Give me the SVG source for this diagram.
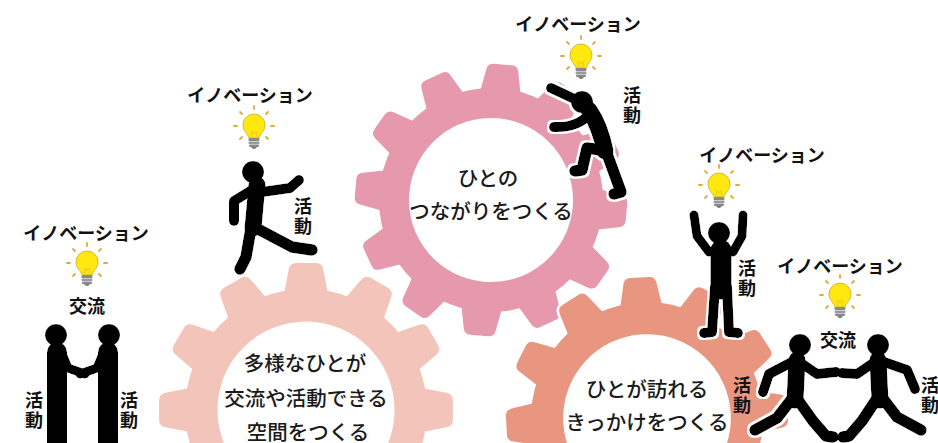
<svg xmlns="http://www.w3.org/2000/svg" xmlns:xlink="http://www.w3.org/1999/xlink" width="938" height="443" viewBox="0 0 938 443">
  <style>
    .cap { font-family: "Noto Sans CJK JP", "Noto Sans", sans-serif; font-size: 20.5px; font-weight: 500; fill: #1a1a1a; text-anchor: middle; }
    .lbl { font-family: "Noto Sans CJK JP", "Noto Sans", sans-serif; font-size: 18px; font-weight: 700; fill: #111; text-anchor: middle; }
    .act { font-family: "Noto Sans CJK JP", "Noto Sans", sans-serif; font-size: 18px; font-weight: 700; fill: #111; writing-mode: vertical-rl; text-anchor: start; letter-spacing: 2px; }
    .fig path { fill: none; stroke: #000; stroke-linecap: round; stroke-linejoin: round; }
    .fig circle { fill: #000; }
    .limb { stroke-width: 10px; }
    .leg { stroke-width: 11.5px; }
    .torso { stroke-width: 17px; }
  </style>
  <defs>
    <!-- one tooth, pointing up from the gear centre -->
    <path id="tooth" d="M-21,-104 L-16,-130 Q-15,-136 -9,-136 L9,-136 Q15,-136 16,-130 L21,-104 Z"/>
    <!-- gear body with 12 teeth -->
    <g id="gear">
      <circle r="112"/>
      <use href="#tooth"/>
      <use href="#tooth" transform="rotate(30)"/>
      <use href="#tooth" transform="rotate(60)"/>
      <use href="#tooth" transform="rotate(90)"/>
      <use href="#tooth" transform="rotate(120)"/>
      <use href="#tooth" transform="rotate(150)"/>
      <use href="#tooth" transform="rotate(180)"/>
      <use href="#tooth" transform="rotate(210)"/>
      <use href="#tooth" transform="rotate(240)"/>
      <use href="#tooth" transform="rotate(270)"/>
      <use href="#tooth" transform="rotate(300)"/>
      <use href="#tooth" transform="rotate(330)"/>
    </g>
    <!-- light bulb, globe centred on the origin -->
    <g id="bulb">
      <g stroke="#DDAE35" stroke-width="1.8" stroke-linecap="round">
        <line x1="0" y1="-17" x2="0" y2="-20"/>
        <line x1="-12" y1="-12" x2="-14" y2="-14"/>
        <line x1="12" y1="-12" x2="14" y2="-14"/>
        <line x1="-17" y1="0" x2="-20" y2="0"/>
        <line x1="17" y1="0" x2="20" y2="0"/>
        <line x1="-12" y1="11" x2="-14" y2="13"/>
        <line x1="12" y1="11" x2="14" y2="13"/>
      </g>
      <path d="M-5,12 C-6,8 -11,5 -11,-1 A11,11 0 1 1 11,-1 C11,5 6,8 5,12 Z" fill="#FFE80F" stroke="#D2B22A" stroke-width="0.9"/>
      <path d="M-3,12 L-2,5 L0,8 L2,5 L3,12" fill="none" stroke="#EFC21A" stroke-width="0.8"/>
      <rect x="-5.5" y="12" width="11" height="3" rx="1" fill="#8a8a8a"/>
      <rect x="-5.5" y="15.5" width="11" height="2.6" rx="1" fill="#9a9a9a"/>
      <rect x="-5" y="18.5" width="10" height="2.4" rx="1" fill="#8a8a8a"/>
      <path d="M-3,21 Q0,25 3,21 Z" fill="#777"/>
    </g>
    <!-- thin white rim round the figures -->
    <filter id="rim" x="-20%" y="-20%" width="140%" height="140%">
      <feMorphology in="SourceAlpha" operator="dilate" radius="1.5" result="grow"/>
      <feFlood flood-color="#ffffff"/>
      <feComposite in2="grow" operator="in" result="white"/>
      <feMerge>
        <feMergeNode in="white"/>
        <feMergeNode in="SourceGraphic"/>
      </feMerge>
    </filter>
  </defs>

  <rect width="938" height="443" fill="#ffffff"/>

  <!-- gears -->
  <g id="gear-connect" transform="translate(491,200) rotate(5)">
    <use href="#gear" fill="#fff" stroke="#fff" stroke-width="5" stroke-linejoin="round"/>
    <use href="#gear" fill="#E699AD"/>
    <circle r="82" fill="#fff"/>
  </g>
  <g id="gear-space" transform="translate(306,410) scale(1.08)">
    <use href="#gear" fill="#fff" stroke="#fff" stroke-width="5" stroke-linejoin="round"/>
    <use href="#gear" fill="#F3C4B9"/>
    <circle r="82" fill="#fff"/>
  </g>
  <g id="gear-visit" transform="translate(647,418) scale(1.035) rotate(-3)">
    <use href="#gear" fill="#fff" stroke="#fff" stroke-width="5" stroke-linejoin="round"/>
    <use href="#gear" fill="#E99680"/>
    <circle r="81" fill="#fff"/>
  </g>

  <!-- gear captions -->
  <g id="caption-connect">
    <text class="cap" x="488" y="186">ひとの</text>
    <text class="cap" x="491" y="219">つながりをつくる</text>
  </g>
  <g id="caption-space">
    <text class="cap" x="305" y="371">多様なひとが</text>
    <text class="cap" x="306" y="406">交流や活動できる</text>
    <text class="cap" x="308" y="440">空間をつくる</text>
  </g>
  <g id="caption-visit">
    <text class="cap" x="647" y="397">ひとが訪れる</text>
    <text class="cap" x="647" y="430">きっかけをつくる</text>
  </g>

  <!-- figures -->
  <g id="figure-climber" class="fig" filter="url(#rim)">
    <path class="limb" d="M551,88 L583,103"/>
    <path class="torso" d="M589,110 Q600,126 605,151"/>
    <path class="limb" d="M589,114 Q578,128 554,127"/>
    <path class="leg" d="M601,150 L587,148 L582,170 L575,171"/>
    <path class="leg" d="M606,151 L621,192 L614,194"/>
    <circle cx="582" cy="102" r="11"/>
  </g>

  <g id="figure-stepper" class="fig" filter="url(#rim)">
    <path class="torso" d="M257,185 L253,228"/>
    <path class="limb" d="M252,190 L234,201 L234,221"/>
    <path class="limb" d="M262,192 L290,188 L299,180"/>
    <path class="leg" d="M251,228 L246,257 L240,269"/>
    <path class="leg" d="M256,228 L292,247 L312,250"/>
    <circle cx="253" cy="172" r="11"/>
  </g>

  <g id="figure-handshake" class="fig" filter="url(#rim)">
    <path class="torso" style="stroke-width:20px" d="M57,352 L57,386"/>
    <path class="leg" style="stroke-width:10px" d="M52,384 L52,445"/>
    <path class="leg" style="stroke-width:10px" d="M62,384 L62,445"/>
    <path class="limb" style="stroke-width:9px" d="M63,356 L68,368 L85,374"/>
    <circle cx="56" cy="335" r="11"/>
    <path class="torso" style="stroke-width:20px" d="M108,352 L108,386"/>
    <path class="leg" style="stroke-width:10px" d="M103,384 L103,445"/>
    <path class="leg" style="stroke-width:10px" d="M113,384 L113,445"/>
    <path class="limb" style="stroke-width:9px" d="M102,356 L97,368 L80,374"/>
    <circle cx="109" cy="335" r="11"/>
  </g>

  <g id="figure-cheer" class="fig" filter="url(#rim)">
    <path class="torso" style="stroke-width:21px" d="M721,250 L721,289"/>
    <path class="limb" style="stroke-width:9px" d="M709,252 L697,236 L694,215"/>
    <path class="limb" style="stroke-width:9px" d="M733,252 L742,236 L743,215"/>
    <path class="leg" style="stroke-width:10px" d="M715,287 L712,332 L704,333"/>
    <path class="leg" style="stroke-width:10px" d="M727,287 L729,332 L738,333"/>
    <circle cx="719" cy="233" r="11"/>
  </g>

  <g id="figure-meet" class="fig" filter="url(#rim)">
    <path class="torso" d="M797,360 L795,400"/>
    <path class="limb" d="M792,362 L769,374 L763,392"/>
    <path class="limb" d="M801,363 L817,374 L836,372"/>
    <path class="leg" d="M791,400 L777,418 L755,430"/>
    <path class="leg" d="M798,400 L813,421 L826,436 L833,437"/>
    <circle cx="800" cy="345" r="11"/>
    <path class="torso" d="M878,360 L880,400"/>
    <path class="limb" d="M873,363 L857,374 L842,373"/>
    <path class="limb" d="M884,362 L907,370 L915,389"/>
    <path class="leg" d="M876,400 L862,421 L849,436 L843,437"/>
    <path class="leg" d="M884,400 L897,417 L921,430"/>
    <circle cx="878" cy="345" r="11"/>
  </g>

  <!-- bulbs -->
  <use id="bulb-top" href="#bulb" x="581" y="56"/>
  <use id="bulb-stepper" href="#bulb" x="254" y="126"/>
  <use id="bulb-handshake" href="#bulb" x="87" y="263"/>
  <use id="bulb-cheer" href="#bulb" x="719" y="185"/>
  <use id="bulb-meet" href="#bulb" x="840" y="295"/>

  <!-- labels -->
  <g id="labels">
    <text class="lbl" x="578" y="31">イノベーション</text>
    <text class="lbl" x="250" y="102">イノベーション</text>
    <text class="lbl" x="86" y="240">イノベーション</text>
    <text class="lbl" x="762" y="162">イノベーション</text>
    <text class="lbl" x="840" y="273">イノベーション</text>
    <text class="lbl" x="87" y="313">交流</text>
    <text class="lbl" x="838" y="347">交流</text>
  </g>
  <!-- vertical 活動 tags next to the figures -->
  <g id="activity-labels">
    <text class="act" x="632" y="86">活動</text>
    <text class="act" x="303" y="197">活動</text>
    <text class="act" x="34" y="391">活動</text>
    <text class="act" x="129" y="391">活動</text>
    <text class="act" x="747" y="259">活動</text>
    <text class="act" x="742" y="376">活動</text>
    <text class="act" x="930" y="376">活動</text>
  </g>
</svg>
